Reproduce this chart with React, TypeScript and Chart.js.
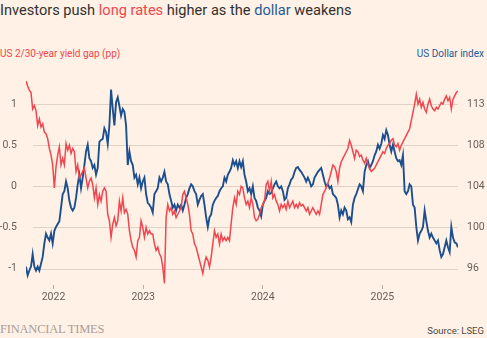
import React, { useEffect, useRef } from "react";
import { Chart, registerables } from "chart.js";

Chart.register(...registerables);

// Sampling of the two series (fractional years, roughly 5 days apart)
const START_YEAR = 2022.02;
const STEP_YEARS = 0.013947;

// US 2/30-year yield gap, percentage points
const yieldGap: number[] = [
  1.28, 1.22, 1.17, 1.14, 0.94, 0.98, 0.92, 0.74, 0.82, 0.72, 0.76, 0.66, 0.64, 0.58, 0.46, 0.38, 0.26, -0.02, 0.24, 0.38,
  0.48, 0.26, 0.34, 0.26, 0.52, 0.44, 0.5, 0.4, 0.46, 0.42, 0.18, 0.26, 0.1, 0.14, 0.18, 0.22, 0.1, -0.02, 0.06, 0.1,
  0.02, -0.14, -0.02, -0.22, -0.1, -0.18, -0.06, -0.02, -0.06, -0.34, -0.42, -0.62, -0.46, -0.38, -0.48, -0.42, -0.18, -0.3, -0.14,
  -0.32,
  -0.28, -0.34, -0.54, -0.66, -0.74, -0.78, -0.86, -0.66, -0.62, -0.42, -0.5, -0.62, -0.5, -0.58, -0.54, -0.58, -0.58, -0.7, -0.78, -0.74,
  -0.82, -0.86, -0.98, -1.18, -0.38, -0.22, -0.3, -0.26, -0.34, -0.3, -0.38, -0.34, -0.3, -0.26, -0.1, -0.06, -0.14, -0.22, -0.34, -0.54,
  -0.58, -0.7, -0.74, -0.82, -0.9, -0.98, -1.06, -0.94, -0.86, -0.9, -0.98, -0.86, -0.7, -0.54, -0.62, -0.58, -0.7, -0.58, -0.66, -0.62,
  -0.66, -0.62,
  -0.66,
  -0.45, -0.26, -0.14, -0.22, -0.06, -0.1, 0, -0.02, -0.14, -0.22, -0.18, -0.26, -0.14, -0.22, -0.38, -0.42, -0.4, -0.34, -0.26, -0.22,
  -0.18, 0.02, 0.06, -0.06, 0.06, -0.14, -0.1, -0.18, -0.22, -0.3, -0.22, -0.26, -0.22, -0.28, -0.18, -0.26, -0.22, -0.18, -0.26, -0.22,
  -0.26, -0.2, -0.24, -0.22, -0.26, -0.3, -0.26, -0.34, -0.3, -0.26, -0.3, -0.34, -0.3, -0.34, -0.22, -0.1, -0.06, -0.02, 0.04, 0.1,
  0.18, 0.26,
  0.24,
  0.18, 0.06, 0.22, 0.3, 0.34, 0.38, 0.42, 0.46, 0.56, 0.5, 0.42, 0.34, 0.44, 0.42, 0.36, 0.38, 0.32, 0.28, 0.34, 0.26,
  0.22, 0.18, 0.2, 0.22, 0.26, 0.3, 0.34, 0.38, 0.42, 0.4, 0.46, 0.5, 0.52, 0.56, 0.58, 0.5, 0.48, 0.52, 0.44, 0.5,
  0.54, 0.58, 0.62, 0.66, 0.7, 0.8, 0.9, 1.0, 1.12, 1.0, 1.06, 0.96, 1.02, 0.94, 0.9, 1.0, 1.06, 0.98, 0.94, 0.92,
  0.96, 0.94, 0.98, 1.02, 1.0, 1.06, 1.1, 1.04, 1.08, 0.94, 1.06, 1.1, 1.14, 1.16,
];

// US Dollar index
const dollarIndex: number[] = [
  96.2, 95.3, 95.8, 96.2, 97.5, 96.2, 95.8, 96.2, 95.8, 96.5, 97.2, 98.6, 99.6, 99.2, 98.9, 99.6, 98.6, 99.9, 100.3, 100.6,
  100.9, 102.3, 103.7, 104.0, 105.0, 104.3, 103.0, 102.3, 102.0, 102.3, 103.3, 104.7, 105.7, 104.3, 105.4, 106.7, 108.1, 108.8, 107.4, 107.1,
  106.4, 106.7, 105.7, 106.4, 109.1, 109.3, 109.4, 110.5, 110.1, 108.9, 110.8, 114.5, 112.5, 110.8, 113.2, 113.7, 112.8, 111.8, 112.5,
  112.2,
  110.8, 106.7, 108.1, 107.1, 106.7, 105.4, 105.7, 104.7, 105.4, 104.3, 105.0, 105.4, 103.7, 102.8, 102.6, 102.3, 101.8, 103.7, 104.0, 104.3,
  105.4, 105.0, 105.4, 106.0, 105.0, 104.7, 103.7, 103.0, 102.3, 102.6, 102.0, 102.6, 102.3, 102.6, 102.0, 102.6, 103.3, 103.7, 104.3, 104.7,
  104.5, 104.0, 103.7, 102.6, 103.1, 103.5, 103.7, 102.6, 101.3, 100.3, 101.3, 101.6, 102.6, 103.0, 103.3, 103.5, 104.0, 104.3, 104.5, 105.4,
  105.0, 105.7,
  106.0,
  106.4, 107.2, 106.7, 107.1, 106.4, 107.1, 106.5, 107.1, 105.7, 105.0, 104.0, 104.3, 103.7, 104.5, 103.3, 103.0, 102.3, 102.0, 101.4, 102.6,
  103.0, 103.3, 104.0, 103.7, 103.8, 104.3, 104.7, 105.0, 104.5, 104.3, 104.5, 104.0, 103.1, 103.3, 104.3, 104.7, 105.2, 105.4, 106.0, 106.4,
  106.5, 106.2, 106.0, 105.7, 105.4, 105.0, 105.4, 105.0, 104.5, 104.7, 105.4, 105.7, 106.0, 106.2, 106.4, 105.7, 105.0, 104.5, 104.7, 104.3,
  104.5, 103.7,
  103.5,
  103.3, 102.6, 101.3, 102.0, 101.6, 102.3, 102.0, 101.1, 101.3, 100.8, 102.6, 103.3, 103.7, 104.2, 104.7, 104.5, 104.0, 106.0, 106.7, 107.1,
  106.4, 106.7, 107.1, 107.7, 108.1, 108.8, 108.4, 108.9, 109.8, 109.4, 110.3, 109.8, 108.8, 108.1, 108.8, 108.1, 107.4, 107.1, 107.2, 106.7,
  107.7, 104.0, 103.7, 104.0, 104.7, 104.5, 102.6, 102.3, 100.3, 98.9, 99.6, 99.9, 100.3, 102.0, 100.9, 99.9, 99.2, 99.6, 99.2, 98.9,
  98.6, 98.9, 97.9, 97.2, 97.5, 98.2, 98.9, 98.2, 97.7, 100.3, 99.2, 98.7, 98.6, 98.2,
];

const xTickValues = [2022.25, 2023, 2024, 2025];
const xTickLabels = ["2022", "2023", "2024", "2025"];
const gapTickValues = [-1, -0.5, 0, 0.5, 1];
const gapTickLabels = ["-1", "-0.5", "0", "0.5", "1"];
const dollarTickValues = [96, 100.25, 104.5, 108.75, 113];
const dollarTickLabels = ["96", "100", "104", "108", "113"];

const GAP_MIN = -1.2;
const GAP_MAX = 1.35;
const DOLLAR_MIN = 94.3;
const DOLLAR_MAX = 115.975;

const BG = "#fff1e5";
const RED = "#f0464f";
const BLUE = "#1c4f8f";
const GRID = "#e0d3c6";
const TICK_TEXT = "#66605c";
const FONT = "Roboto, 'Noto Sans', sans-serif";

const gridPlugin = {
  id: "ftGrid",
  beforeDatasetsDraw(chart: any) {
    const { ctx, chartArea, scales } = chart;
    const y = scales.y;
    ctx.save();
    ctx.strokeStyle = GRID;
    ctx.lineWidth = 1;
    gapTickValues.forEach((v) => {
      const py = Math.round(y.getPixelForValue(v)) + 0.5;
      ctx.beginPath();
      ctx.moveTo(chartArea.left + 7, py);
      ctx.lineTo(chartArea.right, py);
      ctx.stroke();
    });
    ctx.restore();
  },
};

export default function App() {
  const canvasRef = useRef<HTMLCanvasElement | null>(null);

  useEffect(() => {
    document.body.style.margin = "0";
    document.body.style.background = BG;
    const canvas = canvasRef.current;
    if (!canvas) return;
    const lastX = START_YEAR + (yieldGap.length - 1) * STEP_YEARS;
    const chart = new Chart(canvas, {
      type: "line",
      data: {
        datasets: [
          {
            label: "US 2/30-year yield gap (pp)",
            data: yieldGap.map((v, i) => ({ x: START_YEAR + i * STEP_YEARS, y: v })),
            yAxisID: "y",
            borderColor: RED,
            borderWidth: 1.5,
            pointRadius: 0,
            tension: 0,
          },
          {
            label: "US Dollar index",
            data: dollarIndex.map((v, i) => ({ x: START_YEAR + i * STEP_YEARS, y: v })),
            yAxisID: "y2",
            borderColor: BLUE,
            borderWidth: 1.9,
            pointRadius: 0,
            tension: 0,
          },
        ],
      },
      options: {
        animation: false,
        responsive: false,
        maintainAspectRatio: false,
        layout: { padding: { top: 12, left: 0, right: 0, bottom: 0 } },
        plugins: { legend: { display: false }, tooltip: { enabled: false } },
        scales: {
          x: {
            type: "linear",
            min: START_YEAR,
            max: lastX,
            afterBuildTicks: (s: any) => {
              s.ticks = xTickValues.map((v) => ({ value: v }));
            },
            ticks: {
              callback: (_v: any, i: number) => xTickLabels[i],
              color: TICK_TEXT,
              font: { family: FONT, size: 10.5 },
              padding: 2,
              autoSkip: false,
              maxRotation: 0,
            },
            grid: { display: true, drawOnChartArea: false, drawTicks: true, tickLength: 4, color: "#b8aea5" },
            border: { display: false },
            afterFit: (s: any) => {
              s.height = 25;
            },
          },
          y: {
            position: "left",
            min: GAP_MIN,
            max: GAP_MAX,
            afterBuildTicks: (s: any) => {
              s.ticks = gapTickValues.map((v) => ({ value: v }));
            },
            ticks: {
              callback: (_v: any, i: number) => gapTickLabels[i],
              color: TICK_TEXT,
              font: { family: FONT, size: 10.5 },
              padding: 9,
              autoSkip: false,
            },
            grid: { display: false, drawTicks: false },
            border: { display: false },
            afterFit: (s: any) => {
              s.width = 26;
            },
          },
          y2: {
            position: "right",
            min: DOLLAR_MIN,
            max: DOLLAR_MAX,
            afterBuildTicks: (s: any) => {
              s.ticks = dollarTickValues.map((v) => ({ value: v }));
            },
            ticks: {
              callback: (_v: any, i: number) => dollarTickLabels[i],
              color: TICK_TEXT,
              font: { family: FONT, size: 10.5 },
              padding: 9,
              autoSkip: false,
            },
            grid: { display: false, drawTicks: false },
            border: { display: false },
            afterFit: (s: any) => {
              s.width = 29;
            },
          },
        },
      },
      plugins: [gridPlugin],
    } as any);
    return () => chart.destroy();
  }, []);

  return (
    <div
      style={{
        position: "absolute",
        left: 0,
        top: 0,
        width: 487,
        height: 338,
        background: BG,
        overflow: "hidden",
        fontFamily: FONT,
      }}
    >
      <div
        style={{
          position: "absolute",
          left: 0,
          top: 1,
          fontSize: 14.6,
          lineHeight: "18px",
          color: "#33302e",
          whiteSpace: "nowrap",
        }}
      >
        Investors push <span style={{ color: RED }}>long rates</span> higher as the{" "}
        <span style={{ color: "#1f5a9a" }}>dollar</span> weakens
      </div>
      <div
        style={{
          position: "absolute",
          left: 0,
          top: 47,
          fontSize: 10,
          lineHeight: "13px",
          color: RED,
          whiteSpace: "nowrap",
        }}
      >
        US 2/30-year yield gap (pp)
      </div>
      <div
        style={{
          position: "absolute",
          right: 3,
          top: 47,
          fontSize: 10,
          lineHeight: "13px",
          color: "#1f5a9a",
          whiteSpace: "nowrap",
        }}
      >
        US Dollar index
      </div>
      <canvas
        ref={canvasRef}
        width={487}
        height={250}
        style={{ position: "absolute", left: 0, top: 60, width: 487, height: 250 }}
      />
      <div
        style={{
          position: "absolute",
          left: 0,
          top: 322,
          fontSize: 12.5,
          lineHeight: "14px",
          fontFamily: "'Liberation Serif', 'DejaVu Serif', serif",
          color: "#a79e97",
          letterSpacing: "-0.2px",
          whiteSpace: "nowrap",
        }}
      >
        FINANCIAL TIMES
      </div>
      <div
        style={{
          position: "absolute",
          right: 3,
          top: 325,
          fontSize: 9.5,
          lineHeight: "12px",
          color: "#4d4845",
          whiteSpace: "nowrap",
        }}
      >
        Source: LSEG
      </div>
    </div>
  );
}
